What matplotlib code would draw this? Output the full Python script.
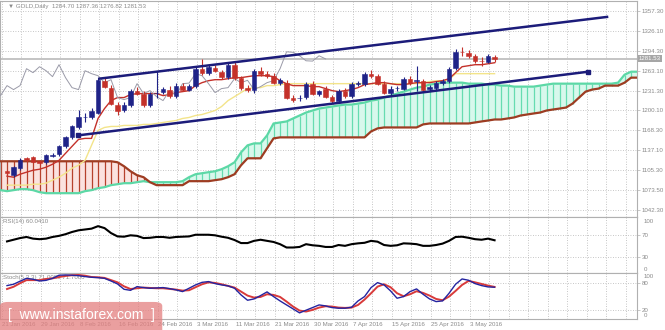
import numpy as np
import matplotlib
matplotlib.use("Agg")
import matplotlib.pyplot as plt
import matplotlib.transforms as mtransforms
from matplotlib.patches import FancyBboxPatch

plt.rcParams["font.family"] = ["Liberation Sans", "DejaVu Sans"]

# daily candles, bar 0 = 21 Jan 2016
opens = [1103.7, 1097.4, 1108.5, 1124.2, 1125.8, 1119.5, 1117.9, 1128.2, 1130.5, 1143.1,
         1157.3, 1173.0, 1188.8, 1188.8, 1196.6, 1247.0, 1236.0, 1209.2, 1201.4, 1209.2,
         1231.3, 1226.6, 1209.2, 1227.0, 1229.7, 1232.9, 1223.4, 1239.2, 1232.9, 1239.2,
         1266.0, 1259.7, 1267.5, 1261.2, 1253.4, 1272.3, 1251.8, 1236.0, 1232.9, 1262.8,
         1258.1, 1254.9, 1243.9, 1243.9, 1220.3, 1219.5, 1221.8, 1242.3, 1226.6, 1234.5,
         1221.8, 1215.5, 1231.3, 1223.4, 1242.3, 1242.3, 1258.1, 1254.9, 1242.3, 1228.2,
         1235.0, 1234.5, 1250.2, 1247.0, 1247.0, 1234.5, 1236.0, 1243.9, 1247.0, 1267.5,
         1292.7, 1291.1, 1286.4, 1278.5, 1277.0, 1284.70]
highs = [1106.0, 1112.0, 1124.0, 1127.0, 1128.0, 1122.0, 1131.0, 1132.0, 1146.0, 1159.0,
         1177.0, 1201.0, 1196.0, 1203.0, 1252.0, 1252.0, 1240.0, 1213.0, 1213.0, 1234.0,
         1237.0, 1230.0, 1229.0, 1263.0, 1237.0, 1238.0, 1243.0, 1243.0, 1242.0, 1269.0,
         1282.0, 1273.0, 1272.0, 1264.0, 1275.0, 1278.0, 1254.0, 1240.0, 1266.0, 1268.0,
         1262.0, 1259.0, 1252.0, 1248.0, 1224.0, 1225.0, 1245.0, 1246.0, 1233.0, 1238.0,
         1225.0, 1234.0, 1235.0, 1245.0, 1247.0, 1261.0, 1264.0, 1258.0, 1246.0, 1238.0,
         1239.0, 1253.0, 1254.0, 1270.0, 1250.0, 1240.0, 1246.0, 1250.0, 1268.0, 1297.0,
         1301.0, 1295.0, 1289.0, 1284.0, 1290.0, 1287.36]
lows = [1098.0, 1095.0, 1106.0, 1119.0, 1116.0, 1114.0, 1115.0, 1126.0, 1128.0, 1141.0,
        1155.0, 1170.0, 1182.0, 1186.0, 1194.0, 1236.0, 1208.0, 1193.0, 1198.0, 1206.0,
        1225.0, 1205.0, 1205.0, 1220.0, 1226.0, 1220.0, 1220.0, 1230.0, 1230.0, 1236.0,
        1256.0, 1256.0, 1260.0, 1250.0, 1250.0, 1248.0, 1232.0, 1229.0, 1228.0, 1255.0,
        1252.0, 1241.0, 1240.0, 1218.0, 1214.0, 1215.0, 1218.0, 1224.0, 1222.0, 1219.0,
        1212.0, 1212.0, 1220.0, 1220.0, 1238.0, 1239.0, 1252.0, 1240.0, 1226.0, 1225.0,
        1231.0, 1232.0, 1240.0, 1231.0, 1230.0, 1230.0, 1233.0, 1240.0, 1244.0, 1264.0,
        1286.0, 1283.0, 1275.0, 1270.0, 1275.0, 1276.82]
closes = [1100.6, 1110.1, 1121.0, 1121.0, 1117.9, 1116.3, 1128.9, 1129.4, 1143.1, 1157.3,
          1174.6, 1190.3, 1189.5, 1199.8, 1248.6, 1237.6, 1210.8, 1199.8, 1209.2, 1231.3,
          1226.6, 1209.2, 1226.6, 1228.2, 1234.5, 1223.4, 1239.2, 1232.9, 1239.2, 1266.0,
          1259.7, 1269.1, 1262.8, 1253.4, 1272.3, 1251.8, 1236.0, 1232.9, 1262.8, 1258.1,
          1254.9, 1243.9, 1248.6, 1220.3, 1217.1, 1220.3, 1242.3, 1226.6, 1231.3, 1221.8,
          1215.5, 1231.3, 1223.4, 1242.3, 1243.2, 1258.1, 1254.9, 1242.3, 1228.2, 1234.5,
          1236.0, 1250.2, 1243.9, 1247.6, 1232.9, 1237.6, 1243.9, 1247.0, 1266.0, 1292.7,
          1291.9, 1286.4, 1278.5, 1278.0, 1286.4, 1281.53]

# Ichimoku lines
tenkan = [1095.9, 1094.3, 1099.0, 1102.2, 1105.3, 1106.9, 1110.1, 1114.8, 1121.0, 1132.1,
          1143.1, 1154.1, 1155.7, 1155.7, 1187.2, 1202.9, 1215.5, 1220.3, 1220.3, 1225.0,
          1226.6, 1226.6, 1226.6, 1226.6, 1223.4, 1225.0, 1228.2, 1229.7, 1231.3, 1239.2,
          1243.9, 1247.0, 1248.6, 1248.6, 1250.2, 1251.8, 1251.8, 1253.4, 1254.9, 1254.9,
          1254.9, 1253.4, 1247.0, 1242.3, 1239.2, 1239.2, 1239.2, 1237.6, 1237.6, 1234.5,
          1231.3, 1229.7, 1231.3, 1232.9, 1236.0, 1240.8, 1242.3, 1243.9, 1243.9, 1242.3,
          1240.8, 1240.8, 1242.3, 1243.9, 1243.9, 1243.9, 1245.5, 1247.0, 1250.2, 1259.7,
          1269.1, 1270.7, 1272.3, 1272.3, 1273.8, 1275.4]
kijun = ([1081.7] * 4 + [1083.2] * 2 +
         [1084.8, 1089.6, 1094.3, 1100.6, 1108.5, 1113.2, 1121.0, 1144.7, 1168.3, 1173.0,
          1174.6, 1174.6] + [1176.2] * 3 + [1177.8] * 2 +
         [1179.3, 1180.9, 1182.5, 1184.0, 1187.2, 1188.8, 1191.9, 1193.5, 1196.6, 1199.8,
          1206.1, 1215.5, 1221.8, 1228.2, 1234.5, 1236.0, 1236.0, 1239.2, 1239.2, 1240.8] +
         [1242.3] * 21 + [1243.9, 1245.5, 1247.0, 1247.0, 1248.6] + [1258.1] * 7)
# spans start one bar before bar 0 and run 26 bars ahead
span_a = ([1073.8, 1072.2, 1073.8, 1075.4, 1075.4, 1073.8, 1070.6] + [1069.0] * 6 +
          [1072.2, 1073.8, 1076.9, 1078.5, 1081.7, 1083.2, 1084.8, 1084.8, 1086.4, 1088.0] +
          [1086.4] * 5 +
          [1088.0, 1094.3, 1099.0, 1100.6, 1102.2, 1103.7, 1106.9, 1111.6, 1117.9, 1133.6,
           1144.7, 1147.8, 1147.8, 1160.4, 1179.3, 1180.9, 1182.5, 1187.2, 1191.9, 1196.6,
           1199.8, 1202.9, 1204.5, 1206.1, 1207.7, 1209.2, 1209.2, 1210.8, 1212.4, 1215.5,
           1217.1, 1220.3, 1223.4, 1226.6, 1229.7, 1232.9, 1236.0, 1237.6, 1240.8, 1242.3] +
          [1243.9] * 4 + [1242.3] * 3 + [1240.8] * 2 + [1239.2] * 2 + [1237.6] * 4 +
          [1239.2, 1240.8] + [1242.3] * 10 + [1243.9, 1256.5, 1261.2, 1261.2])
span_b = ([1119.5] * 18 +
          [1117.9, 1111.6, 1103.7, 1097.4, 1094.3, 1086.4] + [1081.7] * 5 + [1088.0] * 4 +
          [1089.6, 1091.1, 1094.3, 1099.0, 1113.2] + [1124.2] * 3 + [1140.0, 1155.7] +
          [1157.3] * 14 + [1166.7, 1171.5] + [1173.0] * 6 + [1177.8] + [1179.3] * 7 +
          [1180.9, 1182.5, 1184.0, 1185.6, 1185.6, 1187.2, 1188.8, 1191.9, 1193.5, 1195.1,
           1196.6, 1199.8, 1201.4, 1202.9, 1204.5, 1210.8, 1220.3, 1229.7, 1232.9, 1234.5] +
          [1239.2] * 3 + [1243.9, 1251.8, 1251.8])

rsi = [58, 61, 64, 66, 63, 62, 63, 66, 68, 71,
       75, 78, 79.5, 81, 85.5, 82, 73, 67, 66.5, 69,
       68, 64, 64.5, 66, 66, 64.5, 66, 66.5, 67, 70,
       70, 70, 69, 66.5, 64.5, 60.5, 55, 55, 59, 61,
       59, 57, 53, 47, 47, 48, 53, 51, 50, 48,
       48, 51.5, 50, 53, 54.5, 55.5, 59, 57.5, 51.5, 50,
       51, 54.5, 54, 53, 50, 50, 51.5, 54, 59, 66,
       66.5, 64.5, 62, 61, 63, 60.04]
stoch_k = [74.7, 77.7, 84.5, 91, 89, 85, 86.5, 91, 98, 98.6,
           98, 97, 95, 93.4, 92.6, 91, 85, 78.4, 66.4, 64,
           72.4, 70.2, 68.7, 69.4, 70.2, 67.9, 65, 61.2, 68.7, 76.2,
           82, 83.7, 79.2, 76.2, 74, 68.7, 53.7, 41.7, 44.7, 52.2,
           60.5, 50, 40.2, 31.2, 22.3, 13.3, 19.3, 25.2, 31.2, 29,
           25.2, 23.8, 23.8, 26, 40.2, 50, 70.2, 81.4, 76.2, 62.7,
           46.2, 50, 61.2, 67.2, 55.2, 44.7, 38.7, 40.2, 57.5, 77.7,
           89.6, 86.7, 79.2, 74.7, 71.7, 71]
stoch_d = [67, 72, 80, 87, 87, 87, 89.6, 91, 94, 96.4,
           98, 98.6, 97, 94, 93.4, 92, 87, 82, 73, 67,
           68.7, 70.2, 69.4, 68.7, 68.7, 67.2, 65.7, 63.4, 64.2, 71,
           77.7, 82, 80.7, 77.7, 74, 70.2, 61.2, 52.2, 47.7, 49.2,
           55.2, 53.7, 49.2, 38.7, 27.5, 18.5, 16.3, 20, 25.2, 28.2,
           27.5, 25.2, 24.5, 25.2, 31.2, 43.2, 57.5, 72.4, 77.7, 71,
           57.5, 50.7, 55.2, 62, 58.2, 52.2, 44.7, 41.7, 50, 62.7,
           76.2, 85.2, 82, 78.4, 74.7, 71.7]

date_bars = [0, 6, 12, 18, 24, 30, 36, 42, 48, 54, 60, 66, 72]
date_labels = ["21 Jan 2016", "29 Jan 2016", "8 Feb 2016", "16 Feb 2016", "24 Feb 2016",
               "3 Mar 2016", "11 Mar 2016", "21 Mar 2016", "30 Mar 2016", "7 Apr 2016",
               "15 Apr 2016", "25 Apr 2016", "3 May 2016"]
price_ticks = [1042.30, 1073.50, 1105.30, 1137.10, 1168.30, 1200.10,
               1231.30, 1263.10, 1294.30, 1326.10, 1357.30]
last_price = 1281.53

# channel drawn by hand: (bar, price) at both ends
upper_bars, upper_prices = [14.2, 92.3], [1250.2, 1347.9]
lower_bars, lower_prices = [10.9, 89.4], [1160.4, 1261.2]

BULL = "#1f2388"
BEAR = "#c4312a"
GRID = "#b4b4b4"
TXT = "#8a8a8a"
FRAME = "#b0b0b0"
FS = 4.4

fig = plt.figure(figsize=(6.65, 3.3), dpi=100)
ax = fig.add_axes([0, 0.3424, 0.958, 0.6545])
ax_rsi = fig.add_axes([0, 0.1727, 0.958, 0.1697], sharex=ax)
ax_st = fig.add_axes([0, 0.0333, 0.958, 0.1394], sharex=ax)

xmin, xmax = -1.08, 96.92
grid_x = np.arange(-0.8, xmax, 3)
for a in (ax, ax_rsi, ax_st):
    a.set_xlim(xmin, xmax)
    for s in a.spines.values():
        s.set_color(FRAME)
        s.set_linewidth(0.8)
    for gx in grid_x:
        a.axvline(gx, color=GRID, lw=0.6, ls=(0, (1, 2)), zorder=0)
    a.tick_params(axis="x", length=0, labelbottom=False)
    a.yaxis.tick_right()
    a.tick_params(axis="y", length=2, width=0.5, color=FRAME, labelsize=FS,
                  labelcolor=TXT, pad=1.5)

# ---- main price panel
ax.set_ylim(1031.3, 1373.05)
ax.set_yticks(price_ticks)
ax.set_yticklabels([f"{p:.2f}" for p in price_ticks])
for p in price_ticks:
    ax.axhline(p, color=GRID, lw=0.6, ls=(0, (1, 2)), zorder=0)

cn = np.arange(-1, len(span_a) - 1)
A = np.array(span_a)
B = np.array(span_b)
g = A >= B
ax.fill_between(cn, A, B, where=g, interpolate=True, color="#d8f8ec", lw=0, zorder=1)
ax.fill_between(cn, A, B, where=~g, interpolate=True, color="#fbe2df", lw=0, zorder=1)
ax.vlines(cn[g], B[g], A[g], colors="#66dcb0", lw=0.9, zorder=2)
ax.vlines(cn[~g], A[~g], B[~g], colors="#b6412c", lw=0.9, zorder=2)
ax.plot(cn, A, color="#5cd8a6", lw=1.6, zorder=3)
ax.plot(cn, B, color="#9e3c22", lw=1.6, zorder=3)

n = np.arange(len(closes))
ax.plot(n, kijun, color="#f3e48a", lw=1.0, zorder=3)
ax.plot(n, tenkan, color="#c4312a", lw=1.0, zorder=3)
ax.plot(n - 26, closes, color="#9a9aa8", lw=0.7, zorder=3)

ax.axhline(last_price, color="#c4c4c4", lw=1.4, zorder=2)

o = np.array(opens)
c = np.array(closes)
cols = np.where(c >= o, BULL, BEAR)
ax.vlines(n, lows, highs, colors=cols, lw=0.8, zorder=5)
body = np.maximum(np.abs(c - o), 0.8)
ax.bar(n, body, bottom=np.minimum(o, c), width=0.64, color=cols, edgecolor=cols,
       lw=0.4, zorder=6)

ax.plot(upper_bars, upper_prices, color="#1c1c7a", lw=1.8, zorder=7)
ax.plot(lower_bars, lower_prices, color="#1c1c7a", lw=1.8, zorder=7,
        marker="s", markersize=2.5)

ax.text(0.012, 0.985, "\u25bc GOLD,Daily  1284.70 1287.36 1276.82 1281.53",
        transform=ax.transAxes, fontsize=FS, color=TXT, va="top", ha="left")
tr = mtransforms.blended_transform_factory(ax.transAxes, ax.transData)
ax.text(1.003, last_price, f"{last_price:.2f}", transform=tr, fontsize=FS,
        color="white", va="center", ha="left",
        bbox=dict(facecolor="#a6a6a6", edgecolor="none", pad=0.8), zorder=10)

# ---- RSI panel
ax_rsi.set_ylim(1, 102)
ax_rsi.set_yticks([70, 30])
for lv in (70, 30):
    ax_rsi.axhline(lv, color=GRID, lw=0.6, ls=(0, (1, 2)), zorder=0)
ax_rsi.plot(n, rsi, color="black", lw=1.5, zorder=3)
trr = mtransforms.blended_transform_factory(ax_rsi.transAxes, ax_rsi.transData)
ax_rsi.text(1.01, 99, "100", transform=trr, fontsize=FS, color=TXT, va="top")
ax_rsi.text(1.01, 3, "0", transform=trr, fontsize=FS, color=TXT, va="bottom")
ax_rsi.text(0.005, 0.96, "RSI(14) 60.0410", transform=ax_rsi.transAxes,
            fontsize=FS, color=TXT, va="top")

# ---- Stochastic panel
ax_st.set_ylim(-0.5, 103)
ax_st.set_yticks([80, 20])
for lv in (80, 20):
    ax_st.axhline(lv, color=GRID, lw=0.6, ls=(0, (1, 2)), zorder=0)
ax_st.plot(n, stoch_d, color="#d83a3a", lw=1.4, zorder=3)
ax_st.plot(n, stoch_k, color="#2424a0", lw=1.0, zorder=4)
trs = mtransforms.blended_transform_factory(ax_st.transAxes, ax_st.transData)
ax_st.text(1.01, 101, "100", transform=trs, fontsize=FS, color=TXT, va="top")
ax_st.text(1.01, 1.0, "0", transform=trs, fontsize=FS, color=TXT, va="bottom")
ax_st.text(0.005, 0.96, "Stoch(5,3,3) 71.0000 71.7000", transform=ax_st.transAxes,
           fontsize=FS, color=TXT, va="top", zorder=1)

trd = mtransforms.blended_transform_factory(ax_st.transData, ax_st.transAxes)
for b, lab in zip(date_bars, date_labels):
    ax_st.text(b - 0.77, -0.11, lab, transform=trd, fontsize=FS, color=TXT,
               ha="left", va="center", clip_on=False)

# ---- watermark
fig.patches.append(FancyBboxPatch((0.0, -0.02), 0.244, 0.105,
                                  boxstyle="round,pad=0,rounding_size=0.012",
                                  transform=fig.transFigure, facecolor="#e47f7f",
                                  edgecolor="none", alpha=0.75, zorder=20))
fig.text(0.122, 0.045, "[  www.instaforex.com  ]", color="white", fontsize=10,
         ha="center", va="center", zorder=21)

fig.savefig("out.png", dpi=100)
